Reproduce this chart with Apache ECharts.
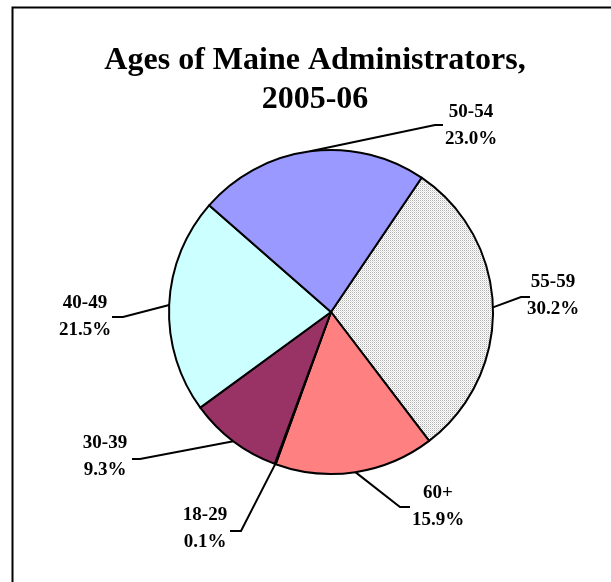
<!DOCTYPE html>
<html>
<head>
<meta charset="utf-8">
<script src="https://cdn.jsdelivr.net/npm/echarts@6/dist/echarts.min.js"></script>
<style>html,body{margin:0;padding:0;background:#fff}#c{width:611px;height:582px}</style>
</head>
<body>
<div id="c"></div>
<script>
const categories = ['55-59', '60+', '18-29', '30-39', '40-49', '50-54'];
const values = [30.2, 15.9, 0.1, 9.3, 21.5, 23.0];
const titleText = 'Ages of Maine Administrators,\n2005-06';

// layout (not data): label block centre and leader-line elbow/end
const labelLayoutCfg = [
  {cx: 553, cy: 296, elbow: [521, 297], end: [530, 297]},
  {cx: 438, cy: 507, elbow: [400, 507], end: [410, 507]},
  {cx: 205, cy: 529, elbow: [241, 531], end: [230, 531]},
  {cx: 105, cy: 457, elbow: [140, 459], end: [132, 459]},
  {cx: 85, cy: 317, elbow: [123, 317], end: [112, 317]},
  {cx: 471, cy: 126, elbow: [435, 125], end: [443, 125]}
];

function dotPattern() {
  const cv = document.createElement('canvas');
  cv.width = 2; cv.height = 2;
  const ctx = cv.getContext('2d');
  ctx.fillStyle = '#ffffff'; ctx.fillRect(0, 0, 2, 2);
  ctx.fillStyle = '#b0b0b0'; ctx.fillRect(0, 0, 1, 1);
  ctx.fillStyle = '#e0e0e0'; ctx.fillRect(1, 1, 1, 1);
  return {image: cv, repeat: 'repeat'};
}
const colors = [dotPattern(), '#ff8080', '#ffffcc', '#993366', '#ccffff', '#9999ff'];

const chart = echarts.init(document.getElementById('c'), null, {renderer: 'canvas'});
const center = [331, 312];
const R = 162;

chart.setOption({
  animation: false,
  backgroundColor: '#ffffff',
  graphic: [{
    type: 'rect', shape: {x: 12.5, y: 7.5, width: 800, height: 800},
    style: {fill: 'none', stroke: '#000', lineWidth: 2}, z: 0
  }, {
    type: 'text', x: 315, y: 41,
    style: {
      text: titleText, fill: '#000',
      font: 'bold 32px "Liberation Serif"',
      lineHeight: 39,
      textAlign: 'center', textVerticalAlign: 'top'
    }
  }],
  series: [{
    type: 'pie',
    center: center,
    radius: [0, R],
    startAngle: 56,
    clockwise: true,
    minAngle: 0,
    avoidLabelOverlap: false,
    data: categories.map((c, i) => ({name: c, value: values[i], itemStyle: {color: colors[i]}})),
    itemStyle: {borderColor: '#000', borderWidth: 2},
    label: {
      show: true,
      position: 'outside',
      formatter: p => p.name + '\n' + p.value.toFixed(1) + '%',
      fontFamily: 'Liberation Serif',
      fontWeight: 'bold',
      fontSize: 19,
      lineHeight: 27,
      color: '#000',
      align: 'center'
    },
    labelLine: {show: true, length: 10, length2: 10, smooth: false, lineStyle: {color: '#000', width: 2}},
    labelLayout: function (params) {
      const cfg = labelLayoutCfg[params.dataIndex];
      let acc = 0;
      const total = values.reduce((a, b) => a + b, 0);
      for (let i = 0; i < params.dataIndex; i++) acc += values[i];
      const mid = 56 - (acc + values[params.dataIndex] / 2) / total * 360;
      const rad = mid * Math.PI / 180;
      const start = [center[0] + R * Math.cos(rad), center[1] - R * Math.sin(rad)];
      return {
        x: cfg.cx,
        y: cfg.cy,
        align: 'center',
        verticalAlign: 'middle',
        labelLinePoints: [start, cfg.elbow, cfg.end]
      };
    },
    emphasis: {disabled: true}
  }]
});
</script>
</body>
</html>
